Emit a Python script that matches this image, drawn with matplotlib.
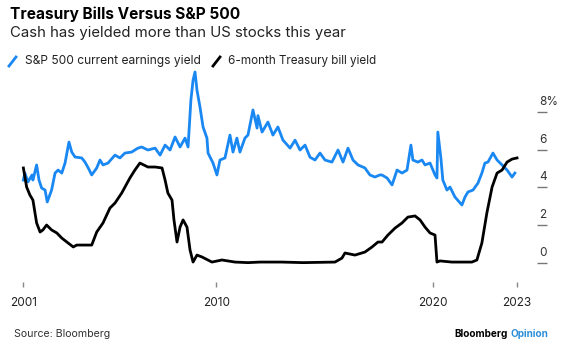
import matplotlib
matplotlib.use("Agg")
import matplotlib.pyplot as plt
from matplotlib.lines import Line2D
import matplotlib.transforms as mtransforms

plt.rcParams['font.family'] = ['Inter', 'DejaVu Sans']

# ---------------- data ----------------
spx_years = [2001.11, 2001.18, 2001.32, 2001.51, 2001.55, 2001.72, 2001.83, 2001.95,
             2002.11, 2002.21, 2002.41, 2002.57, 2002.71, 2002.88, 2003.03, 2003.21,
             2003.34, 2003.49, 2003.80, 2003.95, 2004.10, 2004.26, 2004.49, 2004.64,
             2004.78, 2005.01, 2005.33, 2005.56, 2005.79, 2006.10, 2006.25, 2006.39,
             2006.56, 2006.85, 2007.18, 2007.41, 2007.64, 2007.87, 2008.10, 2008.33,
             2008.56, 2008.70, 2008.83, 2008.93, 2009.02, 2009.11, 2009.25, 2009.39,
             2009.57, 2009.62, 2009.85, 2010.03, 2010.17, 2010.40, 2010.63, 2010.77,
             2010.95, 2011.09, 2011.32, 2011.46, 2011.69, 2011.88, 2011.92, 2012.11,
             2012.38, 2012.61, 2012.84, 2013.07, 2013.40, 2013.63, 2013.86, 2014.09,
             2014.32, 2014.55, 2014.78, 2015.01, 2015.33, 2015.61, 2015.84,
             2016.07, 2016.30, 2016.53, 2016.85, 2017.08, 2017.31, 2017.54, 2017.63,
             2017.87, 2018.10, 2018.33, 2018.56, 2018.79, 2018.97, 2019.06, 2019.29,
             2019.48, 2019.62, 2019.85, 2020.08, 2020.17, 2020.21, 2020.35, 2020.44,
             2020.63, 2020.77, 2021.00, 2021.32, 2021.46, 2021.60, 2021.83, 2022.06,
             2022.24, 2022.38, 2022.52, 2022.75, 2022.94, 2023.17, 2023.40, 2023.63,
             2023.76]
spx_yield = [4.39, 4.76, 4.29, 4.66, 4.39, 5.19, 4.39, 3.97,
             3.86, 3.23, 3.86, 4.76, 4.92, 4.76, 5.29, 6.40,
             5.87, 5.61, 5.56, 5.34, 5.03, 4.66, 5.03, 5.45,
             5.19, 5.29, 5.71, 5.56, 5.82, 5.87, 5.98, 6.08,
             6.14, 5.98, 6.08, 5.71, 6.24, 5.98, 6.67, 6.14,
             6.61, 6.14, 8.62, 9.68, 10.11, 9.15, 8.25, 7.20,
             6.61, 5.82, 5.29, 4.66, 5.45, 5.56, 6.77, 5.87,
             6.61, 5.87, 6.61, 6.77, 8.10, 7.14, 7.80, 6.93,
             7.46, 6.77, 7.20, 6.51, 6.08, 6.50, 5.98, 6.24,
             5.60, 5.45, 5.82, 5.45, 5.34, 5.98, 5.34,
             6.08, 5.45, 5.19, 5.03, 4.66, 4.55, 4.66, 4.66,
             4.50, 4.13, 4.92, 4.76, 4.92, 6.24, 5.45, 5.34,
             5.45, 5.19, 5.29, 4.66, 4.50, 6.93, 5.56, 4.39,
             3.86, 4.02, 3.49, 3.07, 3.49, 3.76, 3.86, 4.23,
             4.76, 5.29, 5.34, 5.82, 5.45, 5.19, 4.92, 4.55,
             4.76]

tbill_years = [2001.11, 2001.26, 2001.41, 2001.55, 2001.72, 2001.88, 2002.01, 2002.18,
               2002.41, 2002.65, 2002.88, 2003.17, 2003.41, 2003.57, 2003.95, 2004.26,
               2004.49, 2004.78, 2005.10, 2005.33, 2005.64, 2006.02, 2006.25, 2006.48,
               2006.85, 2007.18, 2007.50, 2007.64, 2007.77, 2007.96, 2008.05, 2008.19,
               2008.33, 2008.47, 2008.65, 2008.79, 2008.93, 2009.11, 2009.34, 2009.80,
               2010.26, 2010.86, 2011.46, 2012.01, 2013.00, 2014.00, 2015.47, 2015.79,
               2015.93, 2016.39, 2016.85, 2017.18, 2017.45, 2017.64, 2017.91, 2018.24,
               2018.56, 2018.83, 2019.16, 2019.39, 2019.62, 2019.85, 2020.08, 2020.17,
               2020.31, 2020.86, 2021.78, 2022.01, 2022.24, 2022.47, 2022.71, 2022.94,
               2023.17, 2023.40, 2023.63, 2023.86]
tbill_yield = [5.03, 4.02, 3.60, 3.33, 2.12, 1.64, 1.75, 2.01,
               1.75, 1.59, 1.32, 1.06, 0.85, 0.95, 0.95, 0.95,
               1.64, 2.12, 2.91, 3.17, 3.70, 4.50, 4.92, 5.29,
               5.08, 5.08, 5.03, 4.39, 3.70, 3.33, 2.28, 1.11,
               1.90, 2.28, 1.90, 0.69, 0.05, 0.42, 0.32, 0.05,
               0.16, 0.05, 0.02, 0.05, 0.05, 0.02, 0.05, 0.26,
               0.53, 0.42, 0.58, 0.85, 1.11, 1.11, 1.48, 1.85,
               2.12, 2.43, 2.49, 2.28, 1.90, 1.59, 1.48, 0.05,
               0.11, 0.05, 0.05, 0.16, 1.06, 2.65, 4.02, 4.76,
               4.92, 5.34, 5.50, 5.56]

x_tick_years = [2010, 2020]
x_tick_labels = ["2001", "2010", "2020", "2023"]
y_ticks = [0, 2, 4, 6, 8]
y_tick_labels = ["0", "2", "4", "6", "8%"]

title = "Treasury Bills Versus S&P 500"
subtitle = "Cash has yielded more than US stocks this year"
legend_labels = ["S&P 500 current earnings yield", "6-month Treasury bill yield"]
source = "Source: Bloomberg"

BLUE = "#1a88f2"
BLACK = "#000000"

# ---------------- figure ----------------
W, H = 567, 345
fig = plt.figure(figsize=(W / 100, H / 100), dpi=100)
fig.patch.set_facecolor("white")
renderer = fig.canvas.get_renderer()


def fx(px):
    return px / W


def fy(py):
    return 1 - py / H


def fitted_text(x0, x1, ycen, s, base=10, **kw):
    """Place left-aligned text whose width spans x0..x1 pixels."""
    t = fig.text(fx(x0), fy(ycen), s, fontsize=base, va="center", ha="left", **kw)
    w = t.get_window_extent(renderer=renderer).width
    t.set_fontsize(base * (x1 - x0) / w)
    return t


ax = fig.add_axes([fx(16), fy(282), fx(537) - fx(16), fy(68) - fy(282)])
ax.set_facecolor("white")

ax.plot(spx_years, spx_yield, color=BLUE, lw=2.0, solid_joinstyle="round", zorder=2)
ax.plot(tbill_years, tbill_yield, color=BLACK, lw=2.0, solid_joinstyle="round", zorder=3)

ax.set_xlim(2000.77, 2024.78)
ax.set_ylim(-1.005, 10.32)

for s in ax.spines.values():
    s.set_visible(False)

xt = [spx_years[0]] + x_tick_years + [tbill_years[-1]]
ax.set_xticks(xt)
ax.set_xticklabels(x_tick_labels)
ax.tick_params(axis="x", length=3.5, width=1, color="#888888", pad=7,
               labelsize=8.5, labelcolor="#222222")

ax.yaxis.tick_right()
ax.set_yticks(y_ticks)
ax.set_yticklabels([])
ax.tick_params(axis="y", length=7, width=1, color="#777777", direction="out", pad=0)

trans = mtransforms.blended_transform_factory(ax.transAxes, ax.transData)
off = mtransforms.ScaledTranslation(2 / 100, 10 / 100, fig.dpi_scale_trans)
for v, lab in zip(y_ticks, y_tick_labels):
    ax.text(1.0, v, lab, transform=trans + off, ha="left", va="center",
            fontsize=8.5, color="#333333")

# titles
fitted_text(10, 240, 14.5, title, fontweight="bold", color="#000000")
fitted_text(10, 347, 33, subtitle, color="#222222")

# legend
fig.add_artist(Line2D([fx(9), fx(16)], [fy(66), fy(57)], color=BLUE, lw=2, transform=fig.transFigure))
fitted_text(25, 202, 61, legend_labels[0], color="#222222")
fig.add_artist(Line2D([fx(213), fx(220)], [fy(66), fy(57)], color=BLACK, lw=2, transform=fig.transFigure))
fitted_text(228, 377, 61, legend_labels[1], color="#222222")

# footer
fitted_text(14, 111, 334, source, color="#333333")
t_op = fig.text(fx(548), fy(334), "Opinion", fontsize=7.2, fontweight="bold",
                va="center", ha="right", color="#2d8ed8")
bb = t_op.get_window_extent(renderer=renderer)
fig.text((bb.x0 - 2.5) / W, fy(334), "Bloomberg", fontsize=7.2, fontweight="bold",
         va="center", ha="right", color="#000000")

fig.savefig("out.png", dpi=100, facecolor="white")
